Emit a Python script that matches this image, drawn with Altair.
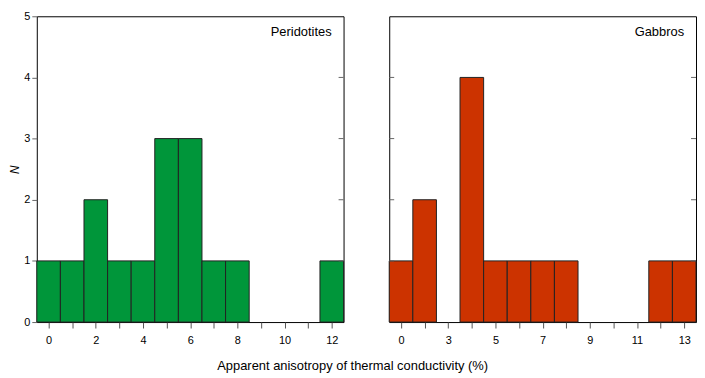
import altair as alt
import pandas as pd

positions = list(range(13))
peridotite_counts = [1, 1, 2, 1, 1, 3, 3, 1, 1, 0, 0, 0, 1]
gabbro_counts = [1, 2, 0, 4, 1, 1, 1, 1, 0, 0, 0, 1, 1]
peridotite_tick_labels = ["0", "", "2", "", "4", "", "6", "", "8", "", "10", "", "12"]
gabbro_tick_labels = ["0", "", "3", "", "5", "", "7", "", "9", "", "11", "", "13"]
y_ticks = [0, 1, 2, 3, 4, 5]
panel_names = ["Peridotites", "Gabbros"]
panel_colors = ["#00963A", "#CC3300"]
x_title = "Apparent anisotropy of thermal conductivity (%)"
y_title = "N"

FONT = "Liberation Sans"
W = 309
H = 308
TICK = 5


def panel(counts, labels, name, color, show_y):
    df = pd.DataFrame({"pos": positions, "n": counts})
    df["x0"] = df["pos"] - 0.5
    df["x1"] = df["pos"] + 0.5
    df["base"] = 0
    df = df[df["n"] > 0]

    label_expr = "[" + ",".join("'%s'" % l for l in labels) + "][datum.value]"
    xscale = alt.Scale(domain=[-0.5, 12.5], nice=False, zero=False)
    yscale = alt.Scale(domain=[0, 5], nice=False)
    xaxis = alt.Axis(values=positions, labelExpr=label_expr, title=None, grid=False,
                     tickSize=6, tickColor="#555", labelPadding=7, domain=False,
                     labelFontSize=11, labelFont=FONT, labelColor="black")
    if show_y:
        yaxis = alt.Axis(values=y_ticks, title=y_title, grid=False, domain=False,
                         tickSize=TICK, tickColor="#666", labelPadding=2,
                         labelFontSize=11, labelFont=FONT, labelColor="black",
                         titleFont=FONT, titleFontSize=12, titleFontStyle="italic",
                         titleFontWeight="normal", titlePadding=2, titleColor="black")
    else:
        yaxis = None

    bars = alt.Chart(df).mark_rect(fill=color, stroke="#222", strokeWidth=1).encode(
        x=alt.X("x0:Q", scale=xscale, axis=xaxis),
        x2="x1:Q",
        y=alt.Y("n:Q", scale=yscale, axis=yaxis),
        y2="base:Q",
    )

    tdf = pd.DataFrame({"n": y_ticks[1:-1]})
    right_ticks = alt.Chart(tdf).mark_rule(color="#666").encode(
        x=alt.value(W - TICK), x2=alt.value(W),
        y=alt.Y("n:Q", scale=yscale, axis=yaxis),
    )
    layers = [bars, right_ticks]
    if not show_y:
        left_ticks = alt.Chart(tdf).mark_rule(color="#666").encode(
            x=alt.value(0), x2=alt.value(TICK),
            y=alt.Y("n:Q", scale=yscale, axis=yaxis),
        )
        layers.append(left_ticks)

    label = alt.Chart(pd.DataFrame({"name": [name]})).mark_text(
        align="right", baseline="middle", font=FONT, fontSize=13, color="black"
    ).encode(x=alt.value(W - 12), y=alt.value(16), text="name:N")
    layers.append(label)

    return alt.layer(*layers).properties(width=W, height=H)


left = panel(peridotite_counts, peridotite_tick_labels, panel_names[0], panel_colors[0], True)
right = panel(gabbro_counts, gabbro_tick_labels, panel_names[1], panel_colors[1], False)

chart = alt.hconcat(left, right, spacing=44).properties(
    title=alt.TitleParams(x_title, orient="bottom", anchor="middle", fontSize=13,
                          font=FONT, fontWeight="normal", color="black", offset=14),
    padding=0,
).configure_view(stroke="black", strokeWidth=1)

chart.save("out.html", embed_options={"renderer": "svg", "actions": False})
